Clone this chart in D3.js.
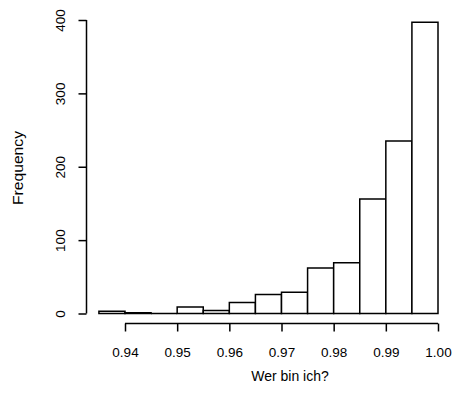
<!DOCTYPE html>
<html>
<head>
<meta charset="utf-8">
<script src="https://cdn.jsdelivr.net/npm/d3@7"></script>
<style>
body { margin: 0; background: #fff; }
text { font-family: "Liberation Sans", Arial, sans-serif; fill: #000; }
</style>
</head>
<body>
<script>
// histogram bins (lower edges) and counts
var binStarts = [0.935, 0.94, 0.945, 0.95, 0.955, 0.96, 0.965, 0.97, 0.975, 0.98, 0.985, 0.99, 0.995];
var counts = [3, 1, 0, 9, 4, 15, 26, 29, 62, 69, 156, 235, 397];
var binWidth = 0.005;
var xTicks = [0.94, 0.95, 0.96, 0.97, 0.98, 0.99, 1.00];
var yTicks = [0, 100, 200, 300, 400];

var width = 454, height = 408;
var lw = 1.5;

var svg = d3.select("body").append("svg")
    .attr("width", width)
    .attr("height", height);

var x = d3.scaleLinear().domain([0.94, 1.00]).range([125, 438]);
var y = d3.scaleLinear().domain([0, 400]).range([313.5, 20]);

//bars drawn as closed paths so empty bins still show on the baseline
svg.selectAll(".bar")
    .data(counts)
    .enter()
    .append("path")
    .attr("class", "bar")
    .attr("d", function(d, i){
        var x0 = x(binStarts[i]), x1 = x(binStarts[i] + binWidth);
        return "M" + x0 + "," + y(0) + "V" + y(d) + "H" + x1 + "V" + y(0) + "Z";
    })
    .attr("fill", "#fff")
    .attr("stroke", "#000")
    .attr("stroke-width", lw);

//x axis
var xAxis = svg.append("g")
    .attr("transform", "translate(0,323.5)")
    .call(d3.axisBottom(x).tickValues(xTicks).tickSize(8).tickPadding(16)
        .tickFormat(d3.format(".2f")));
xAxis.selectAll("text").attr("font-size", 13.5);

//y axis
var yAxis = svg.append("g")
    .attr("transform", "translate(86.5,0)")
    .call(d3.axisLeft(y).tickValues(yTicks).tickSize(8));
yAxis.selectAll(".tick text")
    .attr("font-size", 13.5)
    .attr("text-anchor", "middle")
    .attr("x", 0).attr("y", 0).attr("dy", "0.35em")
    .attr("transform", "translate(-26,0) rotate(-90)");

[xAxis, yAxis].forEach(function(g){
    g.selectAll("line").attr("stroke", "#000").attr("stroke-width", lw);
    g.select(".domain").remove();
});
//plain axis lines without end caps
xAxis.append("line").attr("x1", x(0.94)).attr("x2", x(1.00)).attr("y1", 0).attr("y2", 0)
    .attr("stroke", "#000").attr("stroke-width", lw);
yAxis.append("line").attr("x1", 0).attr("x2", 0).attr("y1", y(0)).attr("y2", y(400))
    .attr("stroke", "#000").attr("stroke-width", lw);

//axis titles
svg.append("text")
    .attr("x", 290)
    .attr("y", 381)
    .attr("text-anchor", "middle")
    .attr("font-size", 14)
    .text("Wer bin ich?");

svg.append("text")
    .attr("transform", "translate(23," + 168 + ") rotate(-90)")
    .attr("text-anchor", "middle")
    .attr("font-size", 14)
    .attr("textLength", 74)
    .attr("lengthAdjust", "spacingAndGlyphs")
    .text("Frequency");
</script>
</body>
</html>
